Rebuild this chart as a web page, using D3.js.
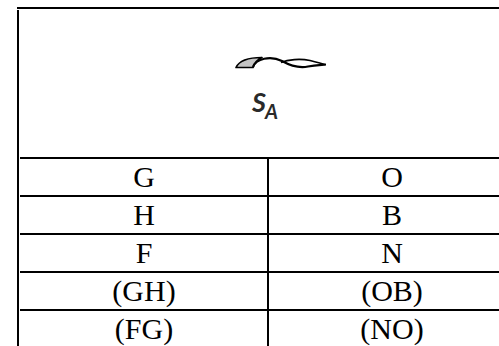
<!DOCTYPE html>
<html>
<head>
<meta charset="utf-8">
<script src="https://cdn.jsdelivr.net/npm/d3@7"></script>
<style>
html,body{margin:0;padding:0;background:#fff;overflow:hidden;}
svg{display:block;}
</style>
</head>
<body>
<script>
const leftColumn = ["G", "H", "F", "(GH)", "(FG)"];
const rightColumn = ["O", "B", "N", "(OB)", "(NO)"];
const headerSymbol = "S";
const headerSubscript = "A";

const W = 499, H = 346;
const svg = d3.select("body").append("svg").attr("width", W).attr("height", H);

const rowIdx = d3.range(leftColumn.length);
const y = d3.scaleBand().domain(rowIdx).range([158, 158 + 38 * leftColumn.length]).padding(0);
const x = d3.scaleBand().domain([0, 1]).range([20, 516]).padding(0);

const stroke = "#000", sw = 1.5;
const crisp = "crispEdges";

svg.append("line").attr("x1", 17).attr("x2", W).attr("y1", 8).attr("y2", 8)
  .attr("stroke", stroke).attr("stroke-width", sw).attr("shape-rendering", crisp);
svg.append("line").attr("x1", 18).attr("x2", 18).attr("y1", 10).attr("y2", H)
  .attr("stroke", stroke).attr("stroke-width", sw).attr("shape-rendering", crisp);
svg.selectAll("line.row").data(rowIdx).join("line").attr("class", "row")
  .attr("x1", 20).attr("x2", W)
  .attr("y1", d => y(d)).attr("y2", d => y(d))
  .attr("stroke", stroke).attr("stroke-width", sw).attr("shape-rendering", crisp);
svg.append("line").attr("x1", x(1)).attr("x2", x(1)).attr("y1", y(0)).attr("y2", H)
  .attr("stroke", stroke).attr("stroke-width", sw).attr("shape-rendering", crisp);

const font = "'Liberation Serif','Times New Roman',serif";
const fs = 30;
function cells(cls, data, col) {
  svg.selectAll("text." + cls).data(data).join("text").attr("class", cls)
    .attr("x", x(col) + x.bandwidth() / 2)
    .attr("y", (d, i) => y(i) + y.bandwidth() / 2 + fs * 0.33)
    .attr("text-anchor", "middle").attr("font-family", font).attr("font-size", fs)
    .text(d => d);
}
cells("l", leftColumn, 0);
cells("r", rightColumn, 1);

// swirl icon
const g = svg.append("g");
g.append("path")
  .attr("d", "M236,67.5 C239,61 249,57.5 262,57.5 C257,60 254,63 253,67.5 Z")
  .attr("fill", "#c4c4c4").attr("stroke", "#000").attr("stroke-width", 1.7).attr("stroke-linejoin", "round");
g.append("path")
  .attr("d", "M253,67 C256,59 270,55 282,61 C290,65.5 298,68.5 308,66.5 C315,65 320,65 326,64.5")
  .attr("fill", "none").attr("stroke", "#000").attr("stroke-width", 2.2);
g.append("path")
  .attr("d", "M281,62.5 C288,59.5 300,58.5 310,60.5 C316,62 320,63 325,64.5")
  .attr("fill", "none").attr("stroke", "#000").attr("stroke-width", 1.7);

// S_A label
const lab = svg.append("text").attr("x", 252).attr("y", 112)
  .attr("font-family", "Lato,'Liberation Sans',sans-serif").attr("font-style", "italic")
  .attr("font-weight", 700).attr("fill", "#2a2a2a");
lab.append("tspan").attr("font-size", 27).text(headerSymbol);
lab.append("tspan").attr("font-size", 20).attr("dy", 7).attr("dx", -1).text(headerSubscript);
</script>
</body>
</html>
